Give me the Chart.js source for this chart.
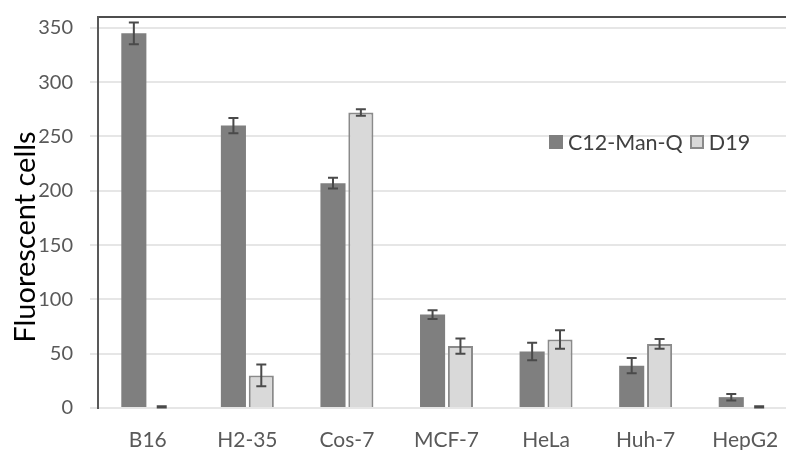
<!DOCTYPE html>
<html lang="en">
<head>
  <meta charset="UTF-8" />
  <title>Fluorescent cells</title>
  <script src="https://cdn.jsdelivr.net/npm/chart.js"></script>
  <style>
    body {
      margin: 0;
      background: #fff;
      font-family: Lato, sans-serif;
    }
    .wrap {
      position: relative;
      width: 786px;
      height: 450px;
      overflow: hidden;
    }
    .legend {
      position: absolute;
      left: 549px;
      top: 129px;
      display: flex;
      align-items: center;
      font-size: 21.5px;
      color: #404040;
      white-space: nowrap;
    }
    .legend span.box {
      display: inline-block;
      width: 14px;
      height: 14px;
      margin-right: 5px;
      box-sizing: border-box;
    }
    .legend span.item {
      display: inline-flex;
      align-items: center;
      margin-right: 7px;
    }
  </style>
</head>
<body>
  <div class="wrap">
    <!-- plot runs a little past the right edge, as in the original -->
    <canvas id="chart" width="795" height="450"></canvas>
    <div class="legend" id="legend"></div>
  </div>

  <script>
    const categories = ['B16', 'H2-35', 'Cos-7', 'MCF-7', 'HeLa', 'Huh-7', 'HepG2'];
    const seriesNames = ['C12-Man-Q', 'D19'];
    const manQ = [345, 260, 207, 86, 52, 39, 10];
    const manQErr = [10, 7, 5, 4, 8, 7, 3];
    const d19 = [1, 30, 272, 57, 63, 59, 1];
    const d19Err = [0.5, 10, 3, 7, 8.5, 4.5, 0.5];
    const yTicks = [0, 50, 100, 150, 200, 250, 300, 350];

    const fills = ['#7f7f7f', '#d9d9d9'];
    const borders = ['#7f7f7f', '#8a8a8a'];

    // error bars drawn from the bar elements and the y scale
    const errorBars = {
      id: 'errorBars',
      afterDatasetsDraw(chart) {
        const ctx = chart.ctx;
        const y = chart.scales.y;
        const errs = [manQErr, d19Err];
        ctx.save();
        ctx.strokeStyle = '#4a4a4a';
        ctx.lineWidth = 2;
        chart.data.datasets.forEach((ds, di) => {
          chart.getDatasetMeta(di).data.forEach((bar, i) => {
            const v = ds.data[i];
            const top = y.getPixelForValue(v + errs[di][i]);
            const bot = y.getPixelForValue(v - errs[di][i]);
            ctx.beginPath();
            ctx.moveTo(bar.x, top); ctx.lineTo(bar.x, bot);
            ctx.moveTo(bar.x - 5, top); ctx.lineTo(bar.x + 5, top);
            ctx.moveTo(bar.x - 5, bot); ctx.lineTo(bar.x + 5, bot);
            ctx.stroke();
          });
        });
        ctx.restore();
      }
    };

    // y axis title, placed like the original
    const yTitle = {
      id: 'yTitle',
      afterDraw(chart) {
        const ctx = chart.ctx;
        ctx.save();
        ctx.translate(26, 237);
        ctx.rotate(-Math.PI / 2);
        ctx.font = '29px Lato';
        ctx.fillStyle = '#000';
        ctx.textAlign = 'center';
        ctx.textBaseline = 'middle';
        ctx.fillText('Fluorescent cells', 0, 0);
        ctx.restore();
      }
    };

    new Chart(document.getElementById('chart'), {
      type: 'bar',
      data: {
        labels: categories,
        datasets: [
          {
            label: seriesNames[0],
            data: manQ,
            backgroundColor: fills[0],
            borderColor: borders[0],
            borderWidth: 0,
            categoryPercentage: 0.56,
            barPercentage: 0.9
          },
          {
            label: seriesNames[1],
            data: d19,
            backgroundColor: fills[1],
            borderColor: borders[1],
            borderWidth: 2,
            categoryPercentage: 0.56,
            barPercentage: 0.9
          }
        ]
      },
      options: {
        responsive: false,
        animation: false,
        layout: { padding: { left: 0, right: 0, top: 17, bottom: 0 } },
        plugins: {
          legend: { display: false },
          tooltip: { enabled: false }
        },
        scales: {
          x: {
            grid: { display: false },
            border: { display: false },
            ticks: {
              color: '#595959',
              font: { family: 'Lato', size: 21 },
              padding: 12
            },
            afterFit(scale) { scale.height = 42; scale.paddingLeft = 0; scale.paddingRight = 0; }
          },
          xTop: {
            position: 'top',
            grid: { display: false, drawTicks: false },
            border: { display: true, color: '#4d4d4d', width: 2 },
            ticks: { display: false },
            afterFit(scale) {
              scale.height = 0;
              scale.paddingTop = 0; scale.paddingBottom = 0;
              scale.paddingLeft = 0; scale.paddingRight = 0;
            }
          },
          y: {
            min: 0,
            max: 360,
            grid: { color: '#e6e6e6', lineWidth: 2 },
            border: { display: true, color: '#595959', width: 2 },
            afterBuildTicks(scale) {
              scale.ticks = yTicks.map(v => ({ value: v }));
            },
            ticks: {
              color: '#595959',
              font: { family: 'Lato', size: 20 },
              padding: 17
            },
            afterFit(scale) { scale.width = 98; scale.paddingTop = 0; scale.paddingBottom = 0; }
          }
        }
      },
      plugins: [errorBars, yTitle]
    });

    // legend
    const legend = document.getElementById('legend');
    seriesNames.forEach((name, i) => {
      const item = document.createElement('span');
      item.className = 'item';
      const box = document.createElement('span');
      box.className = 'box';
      box.style.background = fills[i];
      box.style.border = '2px solid ' + borders[i];
      item.appendChild(box);
      item.appendChild(document.createTextNode(name));
      legend.appendChild(item);
    });
  </script>
</body>
</html>
